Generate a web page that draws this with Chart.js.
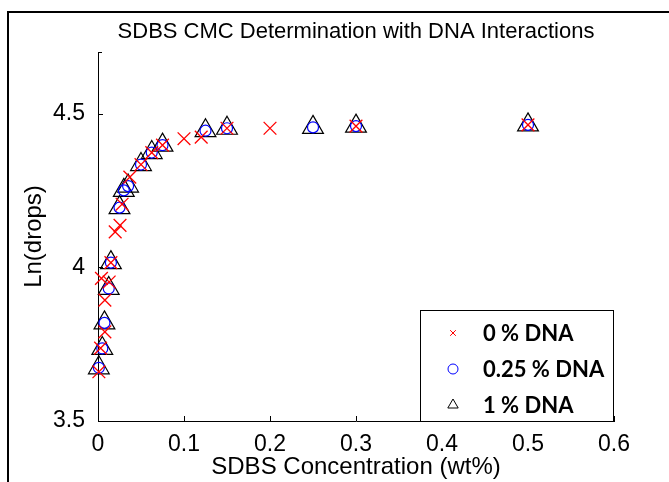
<!DOCTYPE html>
<html>
<head>
<meta charset="utf-8">
<script src="https://cdn.jsdelivr.net/npm/chart.js@4.4.0/dist/chart.umd.min.js"></script>
<style>
  html, body { margin: 0; padding: 0; background: #fff; }
  #wrap { width: 669px; height: 482px; }
</style>
</head>
<body>
<div id="wrap"><canvas id="cmcChart" width="669" height="482"></canvas></div>
<script>
// --- data ---
const CHART_TITLE = 'SDBS CMC Determination with DNA Interactions';
const X_TITLE = 'SDBS Concentration (wt%)';
const Y_TITLE = 'Ln(drops)';
const Y_TICKS = [3.5, 4, 4.5];
const SERIES_NAMES = ['0 % DNA', '0.25 % DNA', '1 % DNA'];

// 0 % DNA (red x)
const conc0 = [0.001, 0.003, 0.004, 0.008, 0.008, 0.013, 0.015, 0.02, 0.0256, 0.028, 0.037, 0.05, 0.0625, 0.075, 0.1, 0.12, 0.15, 0.2, 0.3, 0.5];
const lnDrops0 = [3.66, 3.737, 3.964, 3.79, 3.893, 3.952, 4.015, 4.115, 4.136, 4.205, 4.293, 4.334, 4.373, 4.397, 4.418, 4.423, 4.452, 4.452, 4.459, 4.463];

// 0.25 % and 1 % DNA share the same concentrations
const concDNA = [0.001, 0.005, 0.0075, 0.0125, 0.015, 0.025, 0.03, 0.035, 0.05, 0.0625, 0.075, 0.125, 0.15, 0.25, 0.3, 0.5];
const lnDrops025 = [3.673, 3.736, 3.819, 3.931, 4.015, 4.194, 4.25, 4.264, 4.334, 4.373, 4.397, 4.444, 4.452, 4.455, 4.459, 4.463];
const lnDrops1 = [3.673, 3.736, 3.819, 3.931, 4.015, 4.194, 4.25, 4.264, 4.334, 4.373, 4.397, 4.444, 4.452, 4.455, 4.459, 4.463];

const FONT = '"Liberation Sans", Arial, sans-serif';

const toPoints = (xs, ys) => xs.map((x, i) => ({ x: x, y: ys[i] }));

// figure frame, title, inward ticks and the boxed legend
const matlabLook = {
    id: 'matlabLook',
    beforeDraw(chart) {
        const ctx = chart.ctx;
        const area = chart.chartArea;
        ctx.save();
        ctx.fillStyle = '#fff';
        ctx.fillRect(0, 0, chart.width, chart.height);
        ctx.strokeStyle = '#000';
        ctx.lineWidth = 2;
        ctx.strokeRect(8, 12, 720, 520);
        ctx.fillStyle = '#000';
        ctx.font = '22px ' + FONT;
        ctx.textAlign = 'center';
        ctx.textBaseline = 'middle';
        ctx.fillText(CHART_TITLE, (area.left + area.right) / 2, 32);
        ctx.restore();
    },
    afterDraw(chart) {
        const ctx = chart.ctx;
        const xs = chart.scales.x, ys = chart.scales.y;
        const area = chart.chartArea;
        ctx.save();
        ctx.strokeStyle = '#000';
        ctx.lineWidth = 1;
        ctx.beginPath();
        xs.ticks.forEach(t => {
            const px = Math.round(xs.getPixelForValue(t.value)) + 0.5;
            ctx.moveTo(px, area.bottom);
            ctx.lineTo(px, area.bottom - 5);
        });
        ys.ticks.forEach(t => {
            const py = Math.round(ys.getPixelForValue(t.value)) + 0.5;
            ctx.moveTo(area.left, py);
            ctx.lineTo(area.left + 5, py);
        });
        ctx.moveTo(area.left, area.top + 0.5);
        ctx.lineTo(area.left + 4, area.top + 0.5);
        ctx.stroke();

        // legend box in the lower right corner
        const lx = 420.5, ly = 310.5, lw = 193, lh = area.bottom - 310;
        ctx.fillStyle = '#fff';
        ctx.fillRect(lx, ly, lw, lh);
        ctx.strokeRect(lx, ly, lw, lh);
        const rowY = [333, 369, 405];
        const legendRadius = [4, 5, 6];
        chart.data.datasets.forEach((ds, i) => {
            ctx.strokeStyle = ds.borderColor;
            ctx.fillStyle = 'rgba(0,0,0,0)';
            ctx.lineWidth = 1;
            Chart.helpers.drawPoint(ctx, {
                pointStyle: ds.pointStyle,
                radius: legendRadius[i],
                borderWidth: 1
            }, 453, rowY[i]);
            ctx.fillStyle = '#000';
            ctx.font = 'bold 22px Lato, "Open Sans", sans-serif';
            ctx.textAlign = 'left';
            ctx.textBaseline = 'middle';
            ctx.fillText(ds.label, 483, rowY[i] + 1);
        });
        ctx.restore();
    }
};

const ctx = document.getElementById('cmcChart');

new Chart(ctx, {
    type: 'scatter',
    data: {
        datasets: [
            {
                label: SERIES_NAMES[0],
                data: toPoints(conc0, lnDrops0),
                pointStyle: 'crossRot',
                pointRadius: 9,
                borderColor: '#ff0000',
                backgroundColor: 'rgba(0,0,0,0)',
                pointBorderWidth: 1.3,
                clip: false
            },
            {
                label: SERIES_NAMES[1],
                data: toPoints(concDNA, lnDrops025),
                pointStyle: 'circle',
                pointRadius: 5.5,
                borderColor: '#0000ff',
                backgroundColor: 'rgba(0,0,0,0)',
                pointBorderWidth: 1.2,
                clip: false
            },
            {
                label: SERIES_NAMES[2],
                data: toPoints(concDNA, lnDrops1),
                pointStyle: 'triangle',
                pointRadius: 12,
                borderColor: '#000000',
                backgroundColor: 'rgba(0,0,0,0)',
                pointBorderWidth: 1.2,
                clip: false
            }
        ]
    },
    options: {
        responsive: false,
        animation: false,
        layout: { padding: { left: 10, top: 52, right: 55, bottom: 0 } },
        plugins: {
            legend: { display: false },
            tooltip: { enabled: false }
        },
        scales: {
            x: {
                type: 'linear',
                min: 0,
                max: 0.6,
                afterFit: (scale) => { scale.height = 61; },
                ticks: {
                    stepSize: 0.1,
                    padding: 2,
                    color: '#000',
                    font: { family: FONT, size: 23 }
                },
                grid: { display: false },
                border: { display: true, color: '#000', width: 1 },
                title: {
                    display: true,
                    text: X_TITLE,
                    color: '#000',
                    font: { family: FONT, size: 24 },
                    padding: { top: 0, bottom: 0 }
                }
            },
            y: {
                type: 'linear',
                min: 3.5,
                max: 4.7,
                afterFit: (scale) => { scale.width = 88; },
                afterBuildTicks: (scale) => {
                    scale.ticks = Y_TICKS.map(v => ({ value: v }));
                },
                ticks: {
                    padding: 5,
                    color: '#000',
                    font: { family: FONT, size: 23 },
                    callback: (v) => String(v)
                },
                grid: { display: false },
                border: { display: true, color: '#000', width: 1 },
                title: {
                    display: true,
                    text: Y_TITLE,
                    color: '#000',
                    font: { family: FONT, size: 24 },
                    padding: { top: 10, bottom: 0 }
                }
            }
        }
    },
    plugins: [matlabLook]
});
</script>
</body>
</html>
